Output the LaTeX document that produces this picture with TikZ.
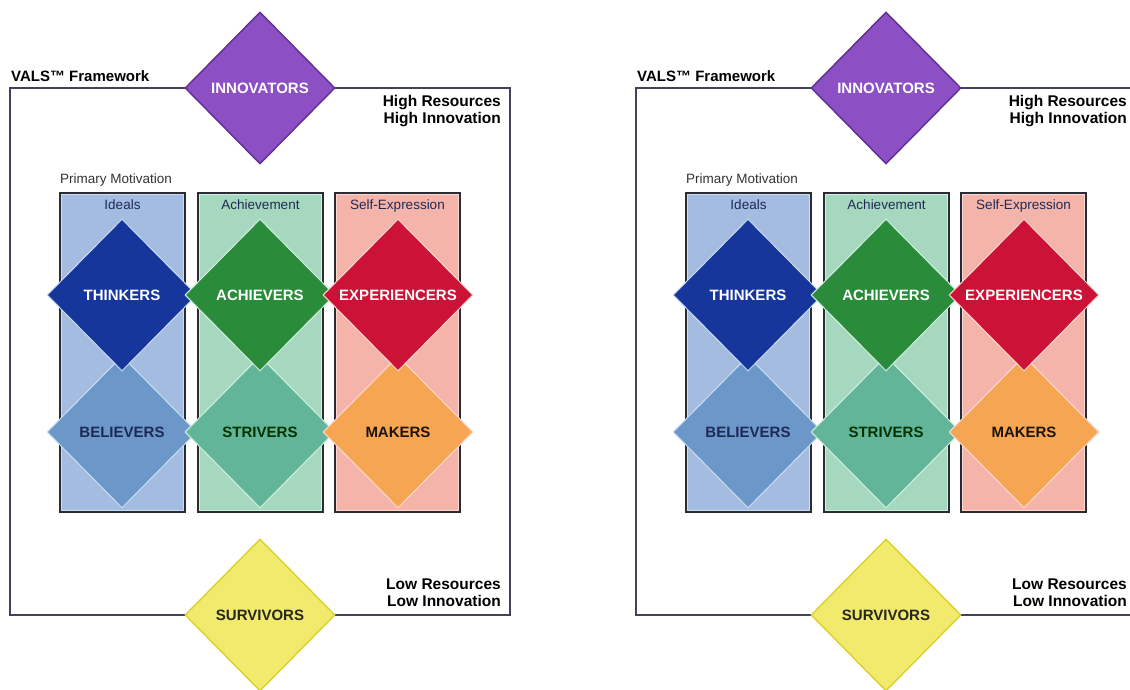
\documentclass[tikz,border=0pt]{standalone}
\usepackage{fontspec}
\setmainfont{Liberation Sans}
\usetikzlibrary{shapes.geometric}
\definecolor{framecol}{HTML}{45405E}
\definecolor{colline}{HTML}{2B2B33}
\definecolor{headtext}{HTML}{1E2A55}
\definecolor{idealfill}{HTML}{A3BCE0}
\definecolor{idealin}{HTML}{CBDDF3}
\definecolor{achfill}{HTML}{A6D8BF}
\definecolor{achin}{HTML}{D2F0E2}
\definecolor{selffill}{HTML}{F5B4AA}
\definecolor{selfin}{HTML}{FBD9D3}
\definecolor{innovfill}{HTML}{8C4FC4}
\definecolor{innovline}{HTML}{5E2E92}
\definecolor{thinkfill}{HTML}{17369C}
\definecolor{achvfill}{HTML}{2A8C3A}
\definecolor{exprfill}{HTML}{CC1236}
\definecolor{believfill}{HTML}{6B97C9}
\definecolor{strivfill}{HTML}{62B598}
\definecolor{makersfill}{HTML}{F6A552}
\definecolor{survfill}{HTML}{F1EA6C}
\definecolor{survline}{HTML}{D9D22A}

\begin{document}
\begin{tikzpicture}[x=1pt, y=-1pt,
  seg/.style={diamond, minimum width=150pt, minimum height=152pt,
              inner sep=0pt, line width=1pt,
              font=\fontsize{15}{17}\selectfont\bfseries},
  colbox/.style={draw=colline, line width=1.6pt, minimum width=125pt,
                 minimum height=319pt, inner sep=0pt},
  colhead/.style={font=\fontsize{13.5}{15}\selectfont, text=headtext, inner sep=0pt},
  side/.style={font=\fontsize{15.5}{17.5}\selectfont\bfseries, align=right, inner sep=0pt}
]
\useasboundingbox (0,0) rectangle (1130,690);
\clip (0,0) rectangle (1130,690);
\fill[white] (0,0) rectangle (1130,690);

\foreach \p/\dx in {a/0, b/626}{
\begin{scope}[xshift=\dx pt]
  % outer frame
  \node[draw=framecol, line width=1.6pt, minimum width=500pt,
        minimum height=527pt, inner sep=0pt] (frame\p) at (260,351.5) {};

  % motivation columns
  \node[colbox, fill=idealfill] (ideal\p) at (122.5,352.5) {};
  \node[colbox, fill=achfill] (achieve\p) at (260.5,352.5) {};
  \node[colbox, fill=selffill] (selfx\p) at (397.5,352.5) {};
  \foreach \c/\l in {ideal/idealin, achieve/achin, selfx/selfin}
    \draw[\l, line width=1.2pt] ([shift={(2.4pt,-2.4pt)}]\c\p.north west)
      rectangle ([shift={(-2.4pt,2.4pt)}]\c\p.south east);
  \node[colhead, anchor=north] (idealhd\p) at ([yshift=-7pt]ideal\p.north) {Ideals};
  \node[colhead, anchor=north] (achhd\p) at ([yshift=-7pt]achieve\p.north) {Achievement};
  \node[colhead, anchor=north] (selfhd\p) at ([yshift=-7pt]selfx\p.north) {Self-Expression};

  % segments
  \node[seg, fill=believfill, draw=idealin, text=headtext] (believ\p) at (122,432) {BELIEVERS};
  \node[seg, fill=strivfill, draw=achin, text=black!80!green] (striv\p) at (260,432) {STRIVERS};
  \node[seg, fill=makersfill, draw=selfin, text=black!85!brown] (makers\p) at (398,432) {MAKERS};
  \node[seg, fill=thinkfill, draw=idealin, text=white] (think\p) at (122,295) {THINKERS};
  \node[seg, fill=achvfill, draw=achin, text=white] (achv\p) at (260,295) {ACHIEVERS};
  \node[seg, fill=exprfill, draw=selfin, text=white] (expr\p) at (398,295) {EXPERIENCERS};
  \node[seg, fill=innovfill, draw=innovline, line width=1.4pt, text=white] (innov\p) at (260,88) {INNOVATORS};
  \node[seg, fill=survfill, draw=survline, line width=1.4pt, text=black!85] (surv\p) at (260,615) {SURVIVORS};

  % labels
  \node[font=\fontsize{15}{17}\selectfont\bfseries, anchor=base west, inner sep=0pt] (title\p) at (11,82) {VALS™ Framework};
  \node[side, anchor=north east] (high\p) at (501,95) {High Resources\\High Innovation};
  \node[side, anchor=south east] (low\p) at (501,607) {Low Resources\\Low Innovation};
  \node[colhead, anchor=base west, text=black!80] (prim\p) at (60,183) {Primary Motivation};
\end{scope}
}
\end{tikzpicture}
\end{document}
